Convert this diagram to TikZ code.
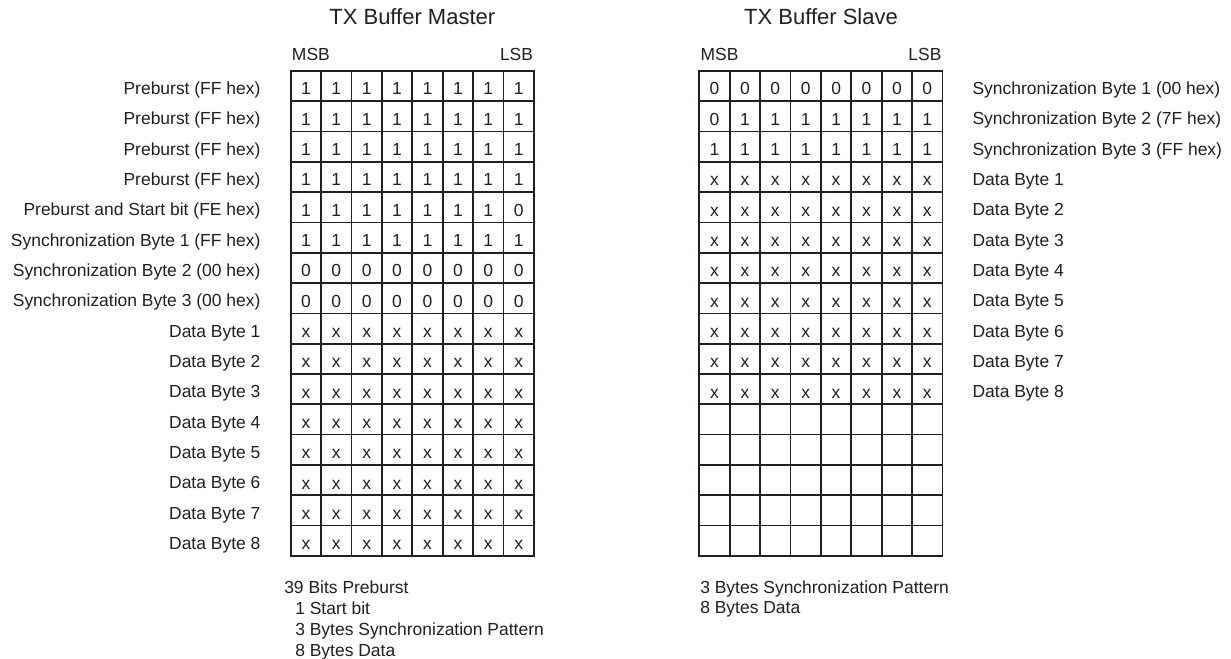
\documentclass[tikz,border=0pt]{standalone}
\usepackage{fontspec}
\setmainfont{Liberation Sans}
\definecolor{ink}{HTML}{231F20}
\begin{document}
\begin{tikzpicture}[x=0.75pt,y=-0.75pt,
  lbl/.style={text=ink, font=\fontsize{13.1}{15}\selectfont, inner sep=0pt},
  ttl/.style={text=ink, font=\fontsize{16.5}{20}\selectfont, inner sep=0pt},
  cell/.style={draw=ink, text=ink, line width=1.25pt, minimum width=22.8pt, minimum height=22.75pt,
    inner sep=0pt, font=\fontsize{13.1}{15}\selectfont, text height=13.5pt, text depth=0pt}]
\useasboundingbox (0,0) rectangle (1231,659);
% titles
\node[ttl, anchor=base] (tm) at (412.3,25) {TX Buffer Master};
\node[ttl, anchor=base] (ts) at (821,25) {TX Buffer Slave};
% MSB / LSB
\node[lbl, anchor=base west] (mmsb) at (291.7,60.7) {MSB};
\node[lbl, anchor=base east] (mlsb) at (533.3,60.7) {LSB};
\node[lbl, anchor=base west] (smsb) at (700.3,60.7) {MSB};
\node[lbl, anchor=base east] (slsb) at (941.7,60.7) {LSB};
% master buffer
\foreach \r/\bits/\txt in {
  1/{1,1,1,1,1,1,1,1}/{Preburst (FF hex)},
  2/{1,1,1,1,1,1,1,1}/{Preburst (FF hex)},
  3/{1,1,1,1,1,1,1,1}/{Preburst (FF hex)},
  4/{1,1,1,1,1,1,1,1}/{Preburst (FF hex)},
  5/{1,1,1,1,1,1,1,0}/{Preburst and Start bit (FE hex)},
  6/{1,1,1,1,1,1,1,1}/{Synchronization Byte 1 (FF hex)},
  7/{0,0,0,0,0,0,0,0}/{Synchronization Byte 2 (00 hex)},
  8/{0,0,0,0,0,0,0,0}/{Synchronization Byte 3 (00 hex)},
  9/{x,x,x,x,x,x,x,x}/{Data Byte 1},
  10/{x,x,x,x,x,x,x,x}/{Data Byte 2},
  11/{x,x,x,x,x,x,x,x}/{Data Byte 3},
  12/{x,x,x,x,x,x,x,x}/{Data Byte 4},
  13/{x,x,x,x,x,x,x,x}/{Data Byte 5},
  14/{x,x,x,x,x,x,x,x}/{Data Byte 6},
  15/{x,x,x,x,x,x,x,x}/{Data Byte 7},
  16/{x,x,x,x,x,x,x,x}/{Data Byte 8}}{
  \foreach \b [count=\c] in \bits {
    \node[cell] (m-\r-\c) at ({290.7+30.4*(\c-0.5)},{70.7+30.33*(\r-0.5)}) {\b};
  }
  \node[lbl, anchor=base east] (ml-\r) at (260.7,{70.7+30.33*(\r-0.5)+8.7}) {\txt};
}
% slave buffer
\foreach \r/\bits/\txt in {
  1/{0,0,0,0,0,0,0,0}/{Synchronization Byte 1 (00 hex)},
  2/{0,1,1,1,1,1,1,1}/{Synchronization Byte 2 (7F hex)},
  3/{1,1,1,1,1,1,1,1}/{Synchronization Byte 3 (FF hex)},
  4/{x,x,x,x,x,x,x,x}/{Data Byte 1},
  5/{x,x,x,x,x,x,x,x}/{Data Byte 2},
  6/{x,x,x,x,x,x,x,x}/{Data Byte 3},
  7/{x,x,x,x,x,x,x,x}/{Data Byte 4},
  8/{x,x,x,x,x,x,x,x}/{Data Byte 5},
  9/{x,x,x,x,x,x,x,x}/{Data Byte 6},
  10/{x,x,x,x,x,x,x,x}/{Data Byte 7},
  11/{x,x,x,x,x,x,x,x}/{Data Byte 8},
  12/{{},{},{},{},{},{},{},{}}/{},
  13/{{},{},{},{},{},{},{},{}}/{},
  14/{{},{},{},{},{},{},{},{}}/{},
  15/{{},{},{},{},{},{},{},{}}/{},
  16/{{},{},{},{},{},{},{},{}}/{}}{
  \foreach \b [count=\c] in \bits {
    \node[cell] (s-\r-\c) at ({699.3+30.4*(\c-0.5)},{70.7+30.33*(\r-0.5)}) {\b};
  }
  \node[lbl, anchor=base west] (sl-\r) at (972.3,{70.7+30.33*(\r-0.5)+8.7}) {\txt};
}
% notes
\node[lbl, anchor=base west] (mn1) at (284,593.3) {39 Bits Preburst};
\node[lbl, anchor=base west] (mn2) at (295,614) {1 Start bit};
\node[lbl, anchor=base west] (mn3) at (295,635) {3 Bytes Synchronization Pattern};
\node[lbl, anchor=base west] (mn4) at (295,656) {8 Bytes Data};
\node[lbl, anchor=base west] (sn1) at (700,593.3) {3 Bytes Synchronization Pattern};
\node[lbl, anchor=base west] (sn2) at (700,613.3) {8 Bytes Data};
\end{tikzpicture}
\end{document}
